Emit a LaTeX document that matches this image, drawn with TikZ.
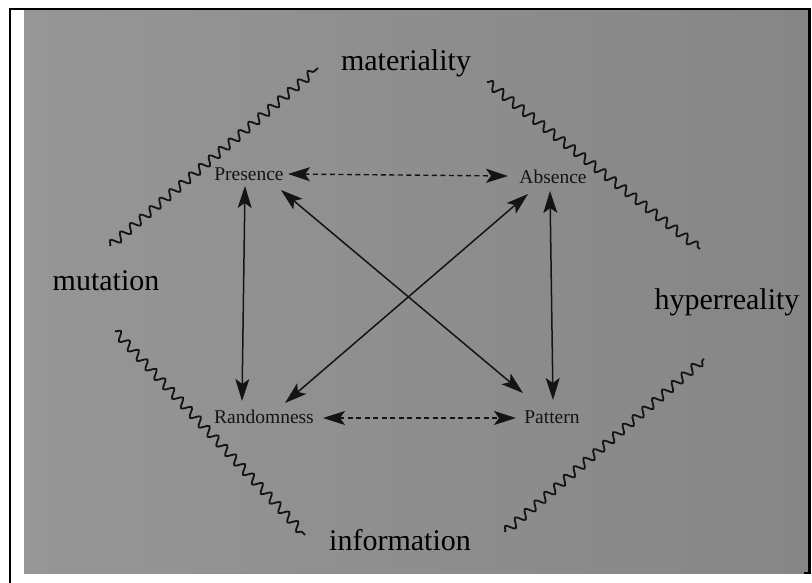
\documentclass[tikz,border=0pt]{standalone}
\usepackage{fontspec}
\setmainfont{Liberation Serif}
\usetikzlibrary{arrows.meta,decorations.pathmorphing}
\definecolor{bgl}{RGB}{150,150,150}
\definecolor{bgr}{RGB}{134,134,134}
\definecolor{ink}{RGB}{20,20,20}
\begin{document}
\begin{tikzpicture}[x=1pt,y=-1pt,
  big/.style={font=\fontsize{30}{30}\selectfont, inner sep=0pt, text=black},
  small/.style={font=\fontsize{19.5}{20}\selectfont, inner sep=0pt, text=ink},
  tip/.tip={Stealth[length=22pt,width=14pt,inset=5pt]},
  dbl/.style={line width=1.5pt, draw=ink, tip-tip},
  dbldash/.style={dbl, line width=1.4pt, dash pattern=on 5pt off 3.5pt},
  wave/.style={line width=1.8pt, draw=ink, decorate, decoration={snake, segment length=13pt, amplitude=4.3pt}}
]
\useasboundingbox (0,0) rectangle (812,583);
\fill[white] (0,0) rectangle (812,583);
\shade[left color=bgl, right color=bgr] (24,10) rectangle (808,573);
\draw[black, line width=2.5pt] (10,583) -- (10,9) -- (809.5,9) -- (809.5,573);
\draw[black, line width=2pt] (804,573) -- (810.5,573);

% small concept nodes
\node[small] (P) at (249,174) {Presence};
\node[small] (A) at (553,177) {Absence};
\node[small] (R) at (264,417) {Randomness};
\node[small] (T) at (552,417) {Pattern};

% big labels
\node[big] (mat) at (406,63) {materiality};
\node[big] (mut) at (106,281) {mutation};
\node[big] (hyp) at (727,302) {hyperreality};
\node[big] (inf) at (400,540) {information};

% arrows
\draw[dbldash] ([shift={(39,0)}]P.center) -- ([shift={(-45,-1)}]A.center);
\draw[dbldash] ([shift={(59,1)}]R.center) -- ([shift={(-36,1)}]T.center);
\draw[dbl] ([shift={(-4,12)}]P.center) -- ([shift={(-22,-16)}]R.center);
\draw[dbl] ([shift={(-3,14)}]A.center) -- ([shift={(1,-17)}]T.center);
\draw[dbl] ([shift={(32,16)}]P.center) -- ([shift={(-29,-24)}]T.center);
\draw[dbl] ([shift={(-25,17)}]A.center) -- ([shift={(21,-14)}]R.center);

% wavy lines
\draw[wave] (110,246) -- (318,68);
\draw[wave] (487,82) -- (700,249);
\draw[wave] (115,331) -- (305,535);
\draw[wave] (505,532) -- (704,359);
\end{tikzpicture}
\end{document}
